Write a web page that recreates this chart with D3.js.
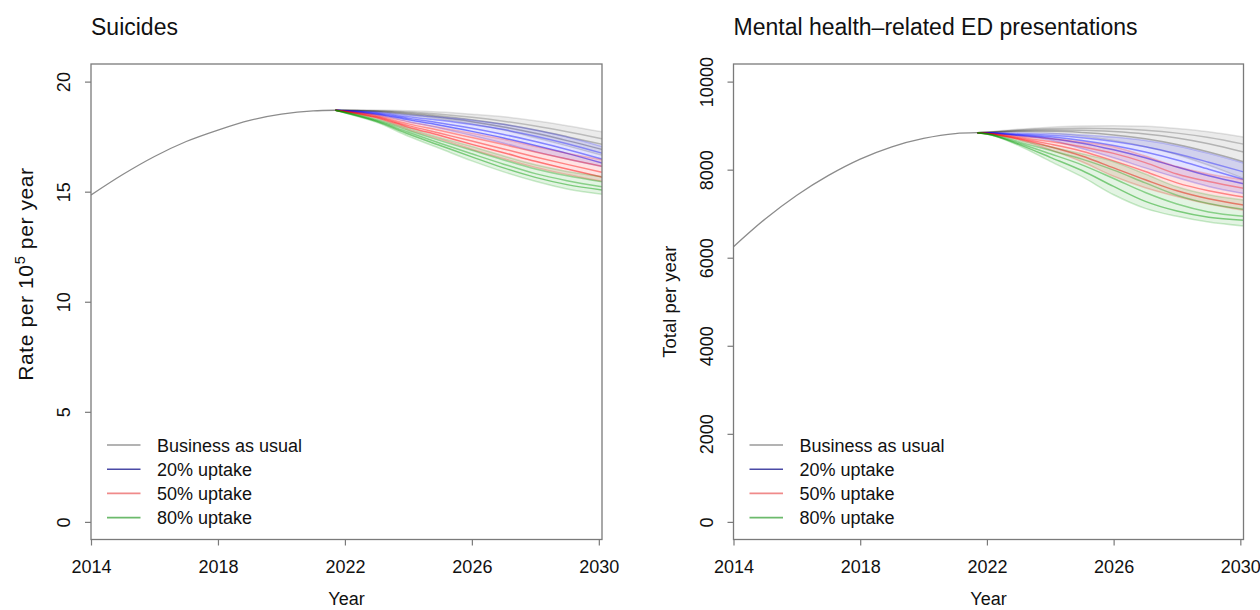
<!DOCTYPE html>
<html>
<head>
<meta charset="utf-8">
<script src="https://cdn.jsdelivr.net/npm/d3@7"></script>
<style>
  html, body { margin: 0; padding: 0; background: #fff; }
  svg { display: block; font-family: "Liberation Sans", Arial, sans-serif; }
</style>
</head>
<body>
<svg id="chart" width="1260" height="610"></svg>
<script>
// ---- data -------------------------------------------------------------
const xTicks = [2014, 2018, 2022, 2026, 2030];
const suicideTicks = [0, 5, 10, 15, 20];
const edTicks = [0, 2000, 4000, 6000, 8000, 10000];

const scenarioNames = ["Business as usual", "20% uptake", "50% uptake", "80% uptake"];

// observed / fitted trend up to the start of the intervention period
const histYears = [2014, 2015, 2016, 2017, 2018, 2019, 2020, 2021, 2021.7];
const suicideHistory = [14.85, 15.78, 16.60, 17.28, 17.80, 18.24, 18.52, 18.67, 18.70];
const edHistory = [6250, 6880, 7420, 7870, 8240, 8520, 8710, 8820, 8840];

// projection years shared by every simulated trajectory
const projYears = [2021.7, 2022, 2023, 2024, 2025, 2026, 2027, 2028, 2029, 2030.1];

// Suicides: rate per 100,000 per year, sampled trajectories per scenario
const suicideBAU = [
  [18.70, 18.70, 18.71, 18.68, 18.62, 18.52, 18.40, 18.22, 18.00, 17.72],
  [18.70, 18.70, 18.68, 18.62, 18.52, 18.38, 18.20, 17.98, 17.72, 17.40],
  [18.70, 18.70, 18.66, 18.57, 18.44, 18.27, 18.06, 17.80, 17.50, 17.15],
  [18.70, 18.70, 18.64, 18.53, 18.38, 18.18, 17.94, 17.65, 17.32, 16.92],
  [18.70, 18.69, 18.62, 18.48, 18.30, 18.08, 17.80, 17.45, 17.08, 16.65]
];
const suicide20 = [
  [18.70, 18.69, 18.62, 18.48, 18.38, 18.25, 18.06, 17.80, 17.48, 17.05],
  [18.70, 18.68, 18.58, 18.40, 18.24, 18.05, 17.82, 17.52, 17.18, 16.75],
  [18.70, 18.67, 18.55, 18.33, 18.12, 17.88, 17.60, 17.28, 16.92, 16.48],
  [18.70, 18.66, 18.52, 18.27, 18.02, 17.74, 17.44, 17.10, 16.74, 16.30],
  [18.70, 18.65, 18.48, 18.18, 17.88, 17.55, 17.20, 16.82, 16.48, 16.14]
];
const suicide50 = [
  [18.70, 18.66, 18.48, 18.18, 17.92, 17.65, 17.38, 17.05, 16.75, 16.45],
  [18.70, 18.65, 18.44, 18.08, 17.78, 17.46, 17.14, 16.80, 16.48, 16.15],
  [18.70, 18.64, 18.40, 18.00, 17.65, 17.30, 16.94, 16.58, 16.24, 15.88],
  [18.70, 18.63, 18.37, 17.93, 17.55, 17.15, 16.77, 16.38, 16.03, 15.66],
  [18.70, 18.62, 18.33, 17.82, 17.38, 16.92, 16.50, 16.10, 15.78, 15.47]
];
const suicide80 = [
  [18.70, 18.62, 18.30, 17.87, 17.45, 17.05, 16.62, 16.22, 15.92, 15.69],
  [18.70, 18.61, 18.26, 17.78, 17.32, 16.88, 16.44, 16.03, 15.72, 15.45],
  [18.70, 18.60, 18.22, 17.70, 17.20, 16.72, 16.25, 15.82, 15.50, 15.22],
  [18.70, 18.59, 18.19, 17.62, 17.10, 16.58, 16.08, 15.65, 15.32, 15.08],
  [18.70, 18.58, 18.15, 17.52, 16.96, 16.40, 15.90, 15.47, 15.12, 14.88]
];

// Mental health-related ED presentations: total per year
const edBAU = [
  [8840, 8855, 8920, 8965, 8990, 9000, 8985, 8935, 8860, 8740],
  [8840, 8850, 8900, 8930, 8940, 8930, 8895, 8830, 8730, 8580],
  [8840, 8848, 8885, 8900, 8895, 8865, 8810, 8720, 8590, 8400],
  [8840, 8845, 8870, 8870, 8845, 8790, 8700, 8570, 8400, 8180],
  [8840, 8842, 8850, 8825, 8760, 8660, 8520, 8340, 8100, 7800]
];
const ed20 = [
  [8840, 8838, 8830, 8820, 8790, 8740, 8660, 8540, 8370, 8150],
  [8840, 8836, 8810, 8780, 8725, 8640, 8520, 8360, 8170, 7950],
  [8840, 8834, 8795, 8745, 8665, 8550, 8400, 8220, 8010, 7780],
  [8840, 8832, 8780, 8710, 8600, 8450, 8270, 8060, 7860, 7680],
  [8840, 8830, 8765, 8675, 8480, 8270, 8040, 7820, 7620, 7460]
];
const ed50 = [
  [8840, 8830, 8760, 8710, 8630, 8520, 8310, 8070, 7900, 7770],
  [8840, 8826, 8735, 8640, 8520, 8370, 8160, 7900, 7730, 7580],
  [8840, 8823, 8715, 8580, 8420, 8200, 7960, 7700, 7520, 7380],
  [8840, 8820, 8695, 8520, 8310, 8040, 7770, 7520, 7340, 7200],
  [8840, 8818, 8680, 8450, 8180, 7850, 7590, 7390, 7220, 7080]
];
const ed80 = [
  [8840, 8818, 8660, 8520, 8360, 8180, 7900, 7610, 7430, 7310],
  [8840, 8815, 8630, 8440, 8240, 7990, 7700, 7420, 7230, 7100],
  [8840, 8812, 8600, 8360, 8110, 7800, 7480, 7220, 7040, 6940],
  [8840, 8810, 8575, 8280, 7980, 7620, 7280, 7060, 6920, 6850],
  [8840, 8808, 8550, 8190, 7840, 7430, 7120, 6940, 6810, 6720]
];

// ---- styling ------------------------------------------------------------
const bundleColors = ["#000000", "#0000ff", "#ff0000", "#009a00"];
const legendColors = ["#9a9a9a", "#4a4aa6", "#f08a8a", "#6cba6c"];
const bundleLineOpacity = [0.24, 0.42, 0.42, 0.40];
const bundleAreaOpacity = [0.08, 0.11, 0.11, 0.11];
// edges of each bundle are fainter than its core
const memberWeight = [0.45, 0.85, 1.0, 1.15, 0.5];

const svg = d3.select("#chart");
const FONT = 18;

const panels = [
  {
    id: "suicide", title: "Suicides",
    box: { x0: 91, x1: 602, y0: 64, y1: 539.5 },
    yDomain: [-0.8, 20.8], yTicks: suicideTicks,
    history: suicideHistory,
    bundles: [suicideBAU, suicide20, suicide50, suicide80],
    yLabelSize: 21, yLabelSpacing: 0.6, yLabelCenter: 274
  },
  {
    id: "ed", title: "Mental health\u2013related ED presentations",
    box: { x0: 733.5, x1: 1243.5, y0: 64, y1: 539.5 },
    yDomain: [-400, 10400], yTicks: edTicks,
    history: edHistory,
    bundles: [edBAU, ed20, ed50, ed80],
    yLabelSize: 18.5, yLabelSpacing: 0, yLabelCenter: 301.75
  }
];

panels.forEach(p => {
  const b = p.box;
  const x = d3.scaleLinear().domain([2014, 2030.1]).range([b.x0, b.x1]);
  const y = d3.scaleLinear().domain(p.yDomain).range([b.y1, b.y0]);
  const g = svg.append("g");

  // clip region = plot box
  svg.append("clipPath").attr("id", "clip-" + p.id)
    .append("rect").attr("x", b.x0).attr("y", b.y0)
    .attr("width", b.x1 - b.x0).attr("height", b.y1 - b.y0);

  const plot = g.append("g").attr("clip-path", `url(#clip-${p.id})`);

  const line = d3.line().curve(d3.curveMonotoneX)
    .x((d, i) => x(projYears[i])).y(d => y(d));
  const histLine = d3.line().curve(d3.curveMonotoneX)
    .x((d, i) => x(histYears[i])).y(d => y(d));

  // historical trend
  plot.append("path").datum(p.history)
    .attr("d", histLine)
    .attr("fill", "none").attr("stroke", "#8c8c8c").attr("stroke-width", 1.3);

  // scenario bundles: spread band plus individual trajectories
  p.bundles.forEach((members, k) => {
    const top = members[0], bottom = members[members.length - 1];
    const area = d3.area().curve(d3.curveMonotoneX)
      .x((d, i) => x(projYears[i]))
      .y0((d, i) => y(bottom[i]))
      .y1((d, i) => y(top[i]));
    plot.append("path").datum(top)
      .attr("d", area)
      .attr("fill", bundleColors[k]).attr("fill-opacity", bundleAreaOpacity[k]);
    plot.selectAll(null).data(members).join("path")
      .attr("d", line)
      .attr("fill", "none")
      .attr("stroke", bundleColors[k])
      .attr("stroke-opacity", (d, i) => Math.min(1, bundleLineOpacity[k] * memberWeight[i]))
      .attr("stroke-width", 1.5);
  });

  // plot box
  g.append("rect")
    .attr("x", b.x0).attr("y", b.y0)
    .attr("width", b.x1 - b.x0).attr("height", b.y1 - b.y0)
    .attr("fill", "none").attr("stroke", "#7a7a7a").attr("stroke-width", 1.3);

  // x axis
  const xAxis = g.append("g").attr("transform", `translate(0,${b.y1})`)
    .call(d3.axisBottom(x).tickValues(xTicks).tickSize(6).tickFormat(d3.format("d")));
  xAxis.select(".domain").remove();
  xAxis.selectAll(".tick line").attr("stroke", "#7a7a7a").attr("stroke-width", 1.2);
  xAxis.selectAll(".tick text")
    .attr("y", 33.5).attr("dy", 0)
    .attr("font-size", FONT).attr("font-family", null).attr("fill", "#111");

  // y axis with labels parallel to the axis
  const yAxis = g.append("g").attr("transform", `translate(${b.x0},0)`)
    .call(d3.axisLeft(y).tickValues(p.yTicks).tickSize(6).tickFormat(d3.format("d")));
  yAxis.select(".domain").remove();
  yAxis.selectAll(".tick line").attr("stroke", "#7a7a7a").attr("stroke-width", 1.2);
  yAxis.selectAll(".tick text")
    .attr("transform", "rotate(-90)")
    .attr("x", 0).attr("y", -21).attr("dy", 0)
    .attr("text-anchor", "middle")
    .attr("font-size", FONT).attr("font-family", null).attr("fill", "#111");

  // titles
  g.append("text").attr("x", b.x0).attr("y", 35)
    .attr("font-size", 23).attr("fill", "#111").text(p.title);

  g.append("text")
    .attr("x", (b.x0 + b.x1) / 2).attr("y", 605)
    .attr("text-anchor", "middle").attr("font-size", FONT).attr("fill", "#111")
    .text("Year");

  const yl = g.append("text")
    .attr("transform", `translate(${b.x0 - 58},${p.yLabelCenter}) rotate(-90)`)
    .attr("text-anchor", "middle").attr("font-size", p.yLabelSize)
    .attr("letter-spacing", p.yLabelSpacing).attr("fill", "#111");
  if (p.id === "suicide") {
    yl.append("tspan").text("Rate per 10");
    yl.append("tspan").attr("font-size", p.yLabelSize * 0.7).attr("dy", -8).text("5");
    yl.append("tspan").attr("dy", 8).text(" per year");
  } else {
    yl.text("Total per year");
  }

  // legend
  const leg = g.append("g").selectAll("g").data(scenarioNames).join("g")
    .attr("transform", (d, i) => `translate(${b.x0},${445 + i * 24.2})`);
  leg.append("line")
    .attr("x1", 16).attr("x2", 49.5).attr("y1", 0).attr("y2", 0)
    .attr("stroke", (d, i) => legendColors[i]).attr("stroke-width", 1.6);
  leg.append("text")
    .attr("x", 66).attr("y", 6.5)
    .attr("font-size", FONT).attr("fill", "#111")
    .text(d => d);
});
</script>
</body>
</html>
